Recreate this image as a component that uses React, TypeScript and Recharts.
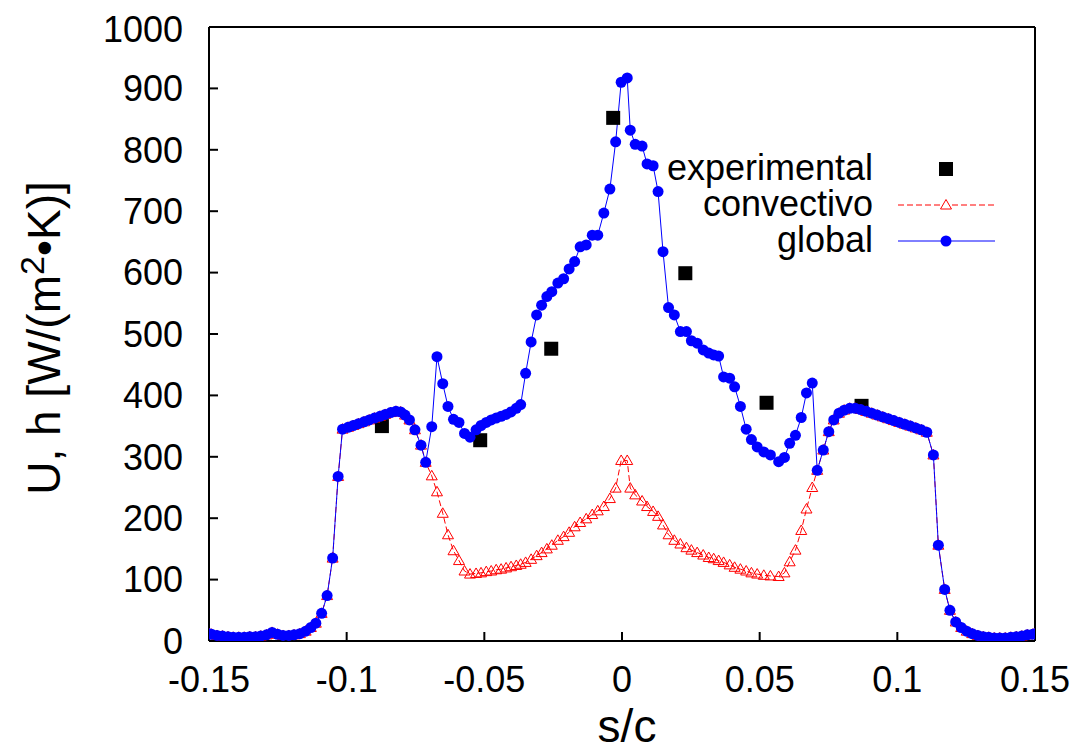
import React from 'react';
import { LineChart, Line, XAxis, YAxis, Label, Legend } from 'recharts';

const FONT = '"Liberation Sans", Arial, Helvetica, sans-serif';

// s/c positions of the computed points
const sc = [
  -0.150, -0.1491, -0.1471, -0.1451, -0.1431, -0.1412, -0.1392, -0.1372, -0.1352, -0.1331,
  -0.1312, -0.1291, -0.1271, -0.1251, -0.1231, -0.1210, -0.1191, -0.1170, -0.1149, -0.1130,
  -0.1112, -0.1091, -0.1071, -0.1051, -0.1031, -0.1015, -0.0995, -0.0976, -0.0957, -0.0937,
  -0.0918, -0.0899, -0.0879, -0.0860, -0.0840, -0.0821, -0.0804, -0.0788, -0.0772, -0.0752,
  -0.0730, -0.0713,
  -0.0691, -0.0672, -0.0651, -0.0632, -0.0612, -0.0592, -0.0572, -0.0552, -0.0530, -0.0512,
  -0.0493, -0.0475, -0.0457, -0.0439, -0.0421, -0.0403, -0.0384, -0.0368, -0.0350, -0.0330,
  -0.0310, -0.0292, -0.0273, -0.0255, -0.0233, -0.0212, -0.0192, -0.0172, -0.0152, -0.0130,
  -0.0108, -0.0088, -0.0066, -0.0044, -0.0023, -0.0003, 0.0019,
  0.0030, 0.0048, 0.0073, 0.0091, 0.0113, 0.0131, 0.0149, 0.0169, 0.0190, 0.0212,
  0.0234, 0.0252, 0.0273, 0.0295, 0.0315, 0.0333, 0.0351, 0.0369, 0.0391, 0.0409,
  0.0430, 0.0451, 0.0470, 0.0491, 0.0515, 0.0539, 0.0569, 0.0590, 0.0609, 0.0630,
  0.0651, 0.0670, 0.0691, 0.0709,
  0.0731, 0.0751, 0.0769, 0.0788, 0.0807, 0.0827, 0.0847, 0.0867, 0.0887, 0.0907,
  0.0927, 0.0947, 0.0967, 0.0987, 0.1007, 0.1027, 0.1047, 0.1067, 0.1087, 0.1107,
  0.1131, 0.1149, 0.1172, 0.1191, 0.1212, 0.1232, 0.1252, 0.1272, 0.1292, 0.1312,
  0.1332, 0.1352, 0.1372, 0.1392, 0.1412, 0.1432, 0.1452, 0.1472, 0.1492, 0.150,
];

// global coefficient U
const globalU = [
  12, 11, 9, 8, 7, 6, 6, 6, 7, 7,
  8, 10, 14, 11, 9, 9, 10, 12, 16, 22,
  29, 45, 74, 135, 268, 345, 348, 351, 354, 357,
  360, 363, 366, 369, 372, 374, 373, 368, 360, 344,
  319, 291,
  349, 463, 419, 382, 361, 356, 338, 332, 344, 351,
  356, 360, 363, 366, 369, 373, 379, 385, 436, 487,
  531, 547, 561, 569, 583, 590, 606, 618, 642, 645,
  661, 661, 697, 736, 813, 910, 917,
  832, 809, 806, 777, 774, 732, 634, 543, 531, 504,
  504, 489, 485, 474, 469, 466, 464, 430, 428, 414,
  382, 345, 328, 316, 308, 303, 292, 299, 322, 335,
  364, 404, 420, 278,
  311, 341, 360, 371, 376, 379, 379, 377, 374, 371,
  368, 365, 362, 359, 356, 353, 350, 347, 344, 340,
  303, 156, 84, 50, 31, 22, 16, 12, 9, 7,
  6, 5, 5, 5, 6, 7, 8, 10, 11, 12,
];

// convective coefficient h
const convH = [
  12, 11, 9, 8, 7, 6, 6, 6, 7, 7,
  8, 10, 14, 11, 9, 9, 10, 12, 16, 22,
  29, 45, 74, 135, 268, 345, 348, 351, 354, 357,
  360, 363, 366, 369, 372, 374, 373, 368, 360, 344,
  319, 291,
  269, 243, 208, 173, 147, 131, 114, 109, 110, 111,
  113, 114, 116, 117, 119, 121, 123, 125, 128, 133,
  139, 144, 150, 156, 164, 170, 177, 186, 193, 199,
  206, 212, 219, 232, 249, 294, 294,
  249, 238, 228, 219, 211, 203, 189, 173, 164, 158,
  152, 148, 144, 140, 136, 134, 131, 128, 124, 120,
  117, 114, 111, 109, 107, 106, 105, 111, 129, 148,
  180, 215, 250, 278,
  311, 341, 360, 371, 376, 379, 379, 377, 374, 371,
  368, 365, 362, 359, 356, 353, 350, 347, 344, 340,
  303, 156, 84, 50, 31, 22, 16, 12, 9, 7,
  6, 5, 5, 5, 6, 7, 8, 10, 11, 12,
];

// experimental measurements
const expS = [-0.0872, -0.0515, -0.0257, -0.0032, 0.0230, 0.0525, 0.0870];
const expV = [350, 327, 476, 852, 599, 388, 383];

const xTicks = [-0.15, -0.1, -0.05, 0, 0.05, 0.1, 0.15];
const yTicks = [0, 100, 200, 300, 400, 500, 600, 700, 800, 900, 1000];

const modelData = sc.map((s, i) => ({ s, g: globalU[i], c: convH[i] }));
const expData = expS.map((s, i) => ({ s, v: expV[i] }));

const BLUE = '#0000ff';
const RED = '#ff0000';

const CircleDot = (p: any) =>
  p.cx == null || p.cy == null ? null : (
    <circle key={`g${p.index}`} cx={p.cx} cy={p.cy} r={5.5} fill={BLUE} />
  );

const TriDot = (p: any) =>
  p.cx == null || p.cy == null ? null : (
    <polygon
      key={`c${p.index}`}
      points={`${p.cx},${p.cy - 5.5} ${p.cx - 5.5},${p.cy + 4} ${p.cx + 5.5},${p.cy + 4}`}
      fill="none"
      stroke={RED}
      strokeWidth={1}
    />
  );

const SquareDot = (p: any) =>
  p.cx == null || p.cy == null ? null : (
    <rect key={`e${p.index}`} x={p.cx - 7} y={p.cy - 7} width={14} height={14} fill="#000" />
  );

const legendItems = [
  { name: 'experimental', kind: 'square' },
  { name: 'convectivo', kind: 'tri' },
  { name: 'global', kind: 'circle' },
];

const renderLegend = () => (
  <svg width={400} height={130} style={{ display: 'block', overflow: 'visible' }}>
    {legendItems.map((it, i) => {
      const base = 35 + i * 36;
      const cy = base - 11;
      return (
        <g key={it.name}>
          <text x={233} y={base} textAnchor="end" fontFamily={FONT} fontSize={36} fill="#000">
            {it.name}
          </text>
          {it.kind === 'square' && <rect x={306 - 7} y={cy - 7} width={14} height={14} fill="#000" />}
          {it.kind === 'tri' && (
            <g>
              <line x1={258} x2={355} y1={cy} y2={cy} stroke={RED} strokeWidth={1} strokeDasharray="6 3" />
              <polygon
                points={`${306},${cy - 5.5} ${306 - 5.5},${cy + 4} ${306 + 5.5},${cy + 4}`}
                fill="#fff"
                stroke={RED}
                strokeWidth={1}
              />
            </g>
          )}
          {it.kind === 'circle' && (
            <g>
              <line x1={258} x2={355} y1={cy} y2={cy} stroke={BLUE} strokeWidth={1} />
              <circle cx={306} cy={cy} r={5.5} fill={BLUE} />
            </g>
          )}
        </g>
      );
    })}
  </svg>
);

// y-axis title with a raised superscript, rotated along the axis
const YTitle = (props: any) => {
  const vb = props.viewBox || {};
  const bx = (vb.x ?? 0) + 52;
  const cy = (vb.y ?? 0) + (vb.height ?? 0) / 2 + 4;
  return (
    <text
      x={bx}
      y={cy}
      transform={`rotate(-90, ${bx}, ${cy})`}
      textAnchor="middle"
      fontFamily={FONT}
      fontSize={46}
      fill="#000"
    >
      U, h [W/(m
      <tspan dy={-16} fontSize={34}>2</tspan>
      <tspan dy={16}>•K)]</tspan>
    </text>
  );
};

const tickStyle = { fontSize: 36, fill: '#000', fontFamily: FONT };
const labelStyle = { fontSize: 46, fill: '#000', fontFamily: FONT };
const axisLineStyle = { stroke: '#000', strokeWidth: 2 };
const tickLineStyle = { stroke: '#000', strokeWidth: 2 };

export default function App() {
  return (
    <div style={{ width: 1070, height: 743, fontFamily: FONT, background: '#fff' }}>
      <LineChart width={1070} height={743} margin={{ top: 9, right: 33, left: 0, bottom: 0 }}>
        <XAxis
          xAxisId={0}
          dataKey="s"
          type="number"
          domain={[-0.15, 0.15]}
          ticks={xTicks}
          allowDataOverflow
          height={110}
          tick={tickStyle}
          tickSize={-9}
          tickMargin={34}
          axisLine={axisLineStyle}
          tickLine={tickLineStyle}
        >
          <Label value="s/c" position="insideBottom" offset={9} dx={5} style={labelStyle} />
        </XAxis>
        <XAxis
          xAxisId="top"
          orientation="top"
          dataKey="s"
          type="number"
          domain={[-0.15, 0.15]}
          ticks={xTicks}
          allowDataOverflow
          height={10}
          tick={false}
          tickSize={-9}
          axisLine={axisLineStyle}
          tickLine={tickLineStyle}
        />
        <YAxis
          yAxisId={0}
          type="number"
          domain={[0, 1000]}
          ticks={yTicks}
          allowDataOverflow
          width={201}
          tick={tickStyle}
          tickSize={-9}
          tickMargin={35}
          axisLine={axisLineStyle}
          tickLine={tickLineStyle}
        >
          <Label content={YTitle} />
        </YAxis>
        <YAxis
          yAxisId="right"
          orientation="right"
          type="number"
          domain={[0, 1000]}
          ticks={yTicks}
          allowDataOverflow
          width={10}
          tick={false}
          tickSize={-9}
          axisLine={axisLineStyle}
          tickLine={tickLineStyle}
        />
        <Legend
          layout="vertical"
          align="center"
          verticalAlign="middle"
          content={renderLegend}
          wrapperStyle={{ left: 632, top: 137, width: 400, height: 130 }}
        />
        <Line
          data={expData}
          dataKey="v"
          xAxisId={0}
          yAxisId={0}
          stroke="none"
          dot={SquareDot}
          activeDot={false}
          isAnimationActive={false}
          legendType="none"
        />
        <Line
          data={modelData}
          dataKey="c"
          xAxisId={0}
          yAxisId={0}
          type="linear"
          stroke={RED}
          strokeWidth={1}
          strokeDasharray="6 3"
          dot={TriDot}
          activeDot={false}
          isAnimationActive={false}
        />
        <Line
          data={modelData}
          dataKey="g"
          xAxisId={0}
          yAxisId={0}
          type="linear"
          stroke={BLUE}
          strokeWidth={1}
          dot={CircleDot}
          activeDot={false}
          isAnimationActive={false}
        />
      </LineChart>
    </div>
  );
}
